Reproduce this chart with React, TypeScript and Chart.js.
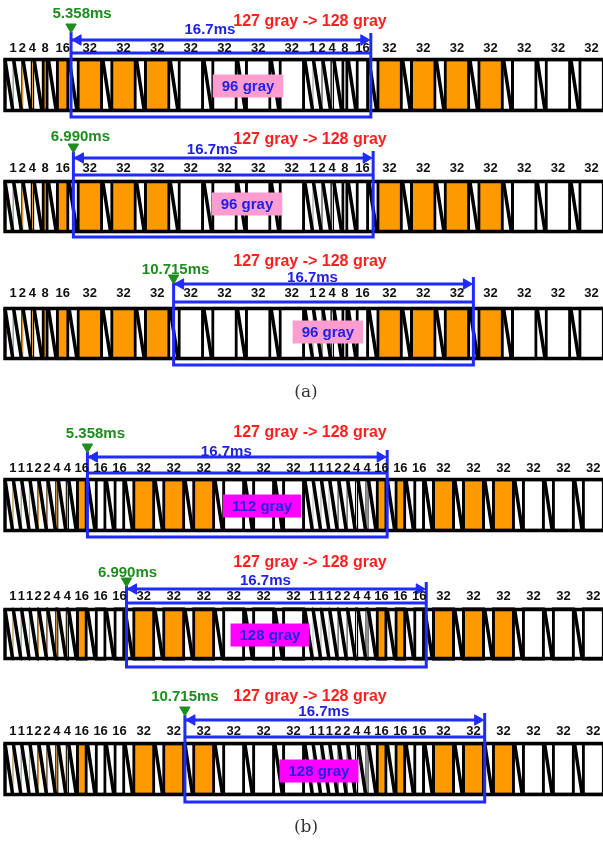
import React, { useEffect, useRef } from "react";
import { Chart, registerables } from "chart.js";

Chart.register(...registerables);

// ---------------- data ----------------
const FRAME_MS = 16.7;
const GRAY_LEVELS = 255;
const WEIGHTS_A = [1, 2, 4, 8, 16, 32, 32, 32, 32, 32, 32, 32];
const WEIGHTS_B = [1, 1, 1, 2, 2, 4, 4, 16, 16, 16, 32, 32, 32, 32, 32, 32];
// subfield on(1)/off(0): first frame shows 127 gray, second frame 128 gray
const GRAY127_A = [1, 1, 1, 1, 1, 1, 1, 1, 0, 0, 0, 0];
const GRAY128_A = [0, 0, 0, 0, 0, 1, 1, 1, 1, 0, 0, 0];
const GRAY127_B = [1, 1, 1, 1, 1, 1, 1, 1, 0, 0, 1, 1, 1, 0, 0, 0];
const GRAY128_B = [0, 0, 0, 0, 0, 0, 0, 1, 1, 0, 1, 1, 1, 0, 0, 0];
const ADDRESS_MS_A = 0.435;
const ADDRESS_MS_B = 0.423;
const ROW_PANEL = ["a", "a", "a", "b", "b", "b"];
const MARKER_LABELS = ["5.358ms", "6.990ms", "10.715ms", "5.358ms", "6.990ms", "10.715ms"];
const WINDOW_START_SUBFIELD = [5, 5, 8, 8, 10, 12];
const WINDOW_START_FRACTION = [0.25, 0.55, 0.45, 0, 0.2, 0];
const PERCEIVED_LABELS = ["96 gray", "96 gray", "96 gray", "112 gray", "128 gray", "128 gray"];
const TRANSITION_LABEL = "127 gray -> 128 gray";
const WINDOW_LABEL = "16.7ms";
const PANEL_CAPTIONS = ["(a)", "(b)"];

// ---------------- layout / style ----------------
const W = 603;
const H = 843;
const X_RANGE = { min: -0.279, max: 33.315 };
const ROW_Y = [
  { marker: 14, title: 22, span: 30, arrow: 40, label: 48, winTop: 53, boxTop: 58, boxBot: 112, winBot: 117, tip: 32 },
  { marker: 137, title: 140, span: 150, arrow: 158, label: 168, winTop: 175, boxTop: 180, boxBot: 233, winBot: 237, tip: 152 },
  { marker: 270, title: 262, span: 278, arrow: 284, label: 293, winTop: 302, boxTop: 307, boxBot: 360, winBot: 365, tip: 283 },
  { marker: 434, title: 433, span: 452, arrow: 457, label: 468, winTop: 473, boxTop: 478, boxBot: 532, winBot: 537, tip: 452 },
  { marker: 573, title: 563, span: 581, arrow: 589, label: 596, winTop: 603, boxTop: 608, boxBot: 660, winBot: 667, tip: 586 },
  { marker: 697, title: 697, span: 712, arrow: 720, label: 731, winTop: 737, boxTop: 742, boxBot: 796, winBot: 802, tip: 715 },
];
const MARKER_DX = [11, 7, 2, 8, 1, 0];
const PERCEIVED_POS = [
  { x: 13.54, y: 86 },
  { x: 13.48, y: 204 },
  { x: 17.99, y: 332 },
  { x: 14.32, y: 506 },
  { x: 14.76, y: 635 },
  { x: 17.49, y: 771 },
];
const PERCEIVED_BG = ["#ff9dd0", "#ff9dd0", "#ff9dd0", "#ff00ff", "#ff00ff", "#ff00ff"];
const TITLE_X = 16.99;
const CAPTION_POS = [
  { x: 16.77, y: 393 },
  { x: 16.77, y: 828 },
];
const ARROW_HEAD_MS = 0.39;
const ORANGE = "#ff9900";
const BLUE = "#1f2bff";
const TEXT_BLUE = "#2020e6";
const RED = "#ff1f1f";
const GREEN = "#1e8c1e";
const SANS = '"Liberation Sans", Arial, sans-serif';

type Sub = { s: number; bs: number; e: number; w: number; on: boolean };

function subfieldsFor(row: number): { subs: Sub[]; addr: number } {
  const a = ROW_PANEL[row] === "a";
  const weights = a ? WEIGHTS_A : WEIGHTS_B;
  const frames = a ? [GRAY127_A, GRAY128_A] : [GRAY127_B, GRAY128_B];
  const addr = a ? ADDRESS_MS_A : ADDRESS_MS_B;
  const unit = (FRAME_MS - weights.length * addr) / GRAY_LEVELS;
  const subs: Sub[] = [];
  let t = 0;
  frames.forEach((states) => {
    weights.forEach((w, i) => {
      const s = t;
      const bs = s + addr;
      const e = bs + w * unit;
      subs.push({ s, bs, e, w, on: states[i] === 1 });
      t = e;
    });
  });
  return { subs, addr };
}

export default function App() {
  const ref = useRef<HTMLCanvasElement | null>(null);

  useEffect(() => {
    if (!ref.current) return;
    const rows = ROW_Y.map((_, i) => {
      const { subs, addr } = subfieldsFor(i);
      const ws = subs[WINDOW_START_SUBFIELD[i]].s + WINDOW_START_FRACTION[i] * addr;
      return { subs, addr, ws, we: ws + FRAME_MS };
    });

    const boxData: any[] = [];
    const boxColors: string[] = [];
    const datasets: any[] = [];
    const marks: any[] = [];
    const markRot: number[] = [];
    const markColor: string[] = [];

    rows.forEach((r, i) => {
      const L = ROW_Y[i];
      const yc = (L.boxTop + L.boxBot) / 2;
      const top = L.boxTop + 1.5;
      const bot = L.boxBot - 1.5;
      r.subs.forEach((sf) => {
        boxData.push({ x: [sf.bs, sf.e], y: yc });
        boxColors.push(sf.on ? ORANGE : "#ffffff");
      });
      const diag: any[] = [];
      r.subs.forEach((sf) => {
        diag.push({ x: sf.s, y: top }, { x: sf.bs, y: bot }, { x: sf.bs, y: null });
      });
      datasets.push({
        type: "line",
        data: diag,
        borderColor: "#000",
        borderWidth: 3.5,
        pointRadius: 0,
        spanGaps: false,
        order: 4,
      });
      const x0 = r.subs[0].s;
      datasets.push({
        type: "line",
        data: [
          { x: X_RANGE.max, y: top },
          { x: x0, y: top },
          { x: x0, y: bot },
          { x: X_RANGE.max, y: bot },
        ],
        borderColor: "#000",
        borderWidth: 3.4,
        pointRadius: 0,
        borderJoinStyle: "miter",
        order: 3,
      });
      datasets.push({
        type: "line",
        data: [
          { x: r.ws, y: L.tip },
          { x: r.ws, y: L.winBot },
          { x: r.we, y: L.winBot },
          { x: r.we, y: L.arrow - 7 },
          { x: r.we, y: null },
          { x: r.ws, y: L.winTop },
          { x: r.we, y: L.winTop },
          { x: r.we, y: null },
          { x: r.ws, y: L.arrow },
          { x: r.we - ARROW_HEAD_MS, y: L.arrow },
        ],
        borderColor: BLUE,
        borderWidth: 3,
        pointRadius: 0,
        spanGaps: false,
        borderJoinStyle: "miter",
        order: 2,
      });
      marks.push({ x: r.ws + ARROW_HEAD_MS, y: L.arrow });
      markRot.push(-90);
      markColor.push(BLUE);
      marks.push({ x: r.we - ARROW_HEAD_MS, y: L.arrow });
      markRot.push(90);
      markColor.push(BLUE);
      marks.push({ x: r.ws, y: L.tip - 5 });
      markRot.push(180);
      markColor.push(GREEN);
    });

    datasets.push({
      type: "line",
      data: marks,
      showLine: false,
      pointStyle: "triangle",
      pointRadius: 6,
      pointRotation: markRot,
      pointBackgroundColor: markColor,
      pointBorderColor: markColor,
      pointBorderWidth: 1,
      clip: false,
      order: 0,
    });

    datasets.push({
      type: "bar",
      indexAxis: "y",
      data: boxData,
      backgroundColor: boxColors,
      borderColor: "#000",
      borderWidth: 3,
      borderSkipped: false,
      barThickness: 53,
      order: 5,
    });

    const textPlugin = {
      id: "diagramText",
      afterDatasetsDraw(chart: any) {
        const ctx = chart.ctx as CanvasRenderingContext2D;
        const xs = chart.scales.x;
        const ys = chart.scales.y;
        ctx.save();
        ctx.textAlign = "center";
        ctx.textBaseline = "middle";
        rows.forEach((r, i) => {
          const L = ROW_Y[i];
          ctx.fillStyle = "#111";
          ctx.font = `bold 13px ${SANS}`;
          r.subs.forEach((sf) => {
            ctx.fillText(String(sf.w), xs.getPixelForValue((sf.bs + sf.e) / 2), ys.getPixelForValue(L.label));
          });
          ctx.fillStyle = GREEN;
          ctx.font = `bold 15px ${SANS}`;
          ctx.fillText(MARKER_LABELS[i], xs.getPixelForValue(r.ws) + MARKER_DX[i], ys.getPixelForValue(L.marker));
          ctx.fillStyle = RED;
          ctx.font = `bold 16px ${SANS}`;
          ctx.fillText(TRANSITION_LABEL, xs.getPixelForValue(TITLE_X), ys.getPixelForValue(L.title));
          ctx.fillStyle = TEXT_BLUE;
          ctx.font = `bold 15px ${SANS}`;
          ctx.fillText(WINDOW_LABEL, xs.getPixelForValue((r.ws + r.we) / 2) - 11, ys.getPixelForValue(L.span));
          ctx.font = `bold 15px ${SANS}`;
          const tw = ctx.measureText(PERCEIVED_LABELS[i]).width;
          const cx = xs.getPixelForValue(PERCEIVED_POS[i].x);
          const cy = ys.getPixelForValue(PERCEIVED_POS[i].y);
          ctx.fillStyle = PERCEIVED_BG[i];
          ctx.fillRect(cx - tw / 2 - 9, cy - 11.5, tw + 18, 23);
          ctx.fillStyle = TEXT_BLUE;
          ctx.fillText(PERCEIVED_LABELS[i], cx, cy + 0.5);
        });
        ctx.fillStyle = "#333";
        ctx.font = '17px "DejaVu Serif", serif';
        PANEL_CAPTIONS.forEach((c, k) => {
          ctx.fillText(c, xs.getPixelForValue(CAPTION_POS[k].x), ys.getPixelForValue(CAPTION_POS[k].y));
        });
        ctx.restore();
      },
    };

    const chart = new Chart(ref.current, {
      type: "bar",
      data: { datasets },
      options: {
        responsive: false,
        maintainAspectRatio: false,
        animation: false,
        events: [],
        layout: { padding: 0, autoPadding: false },
        plugins: { legend: { display: false }, tooltip: { enabled: false }, title: { display: false } },
        scales: {
          x: { type: "linear", min: X_RANGE.min, max: X_RANGE.max, display: false, offset: false },
          y: { type: "linear", min: 0, max: H, reverse: true, display: false, offset: false },
        },
      } as any,
      plugins: [textPlugin],
    } as any);
    return () => chart.destroy();
  }, []);

  return (
    <div style={{ position: "absolute", left: 0, top: 0, width: W, height: H, background: "#fff" }}>
      <canvas ref={ref} width={W} height={H} style={{ display: "block", width: W, height: H }} />
    </div>
  );
}
